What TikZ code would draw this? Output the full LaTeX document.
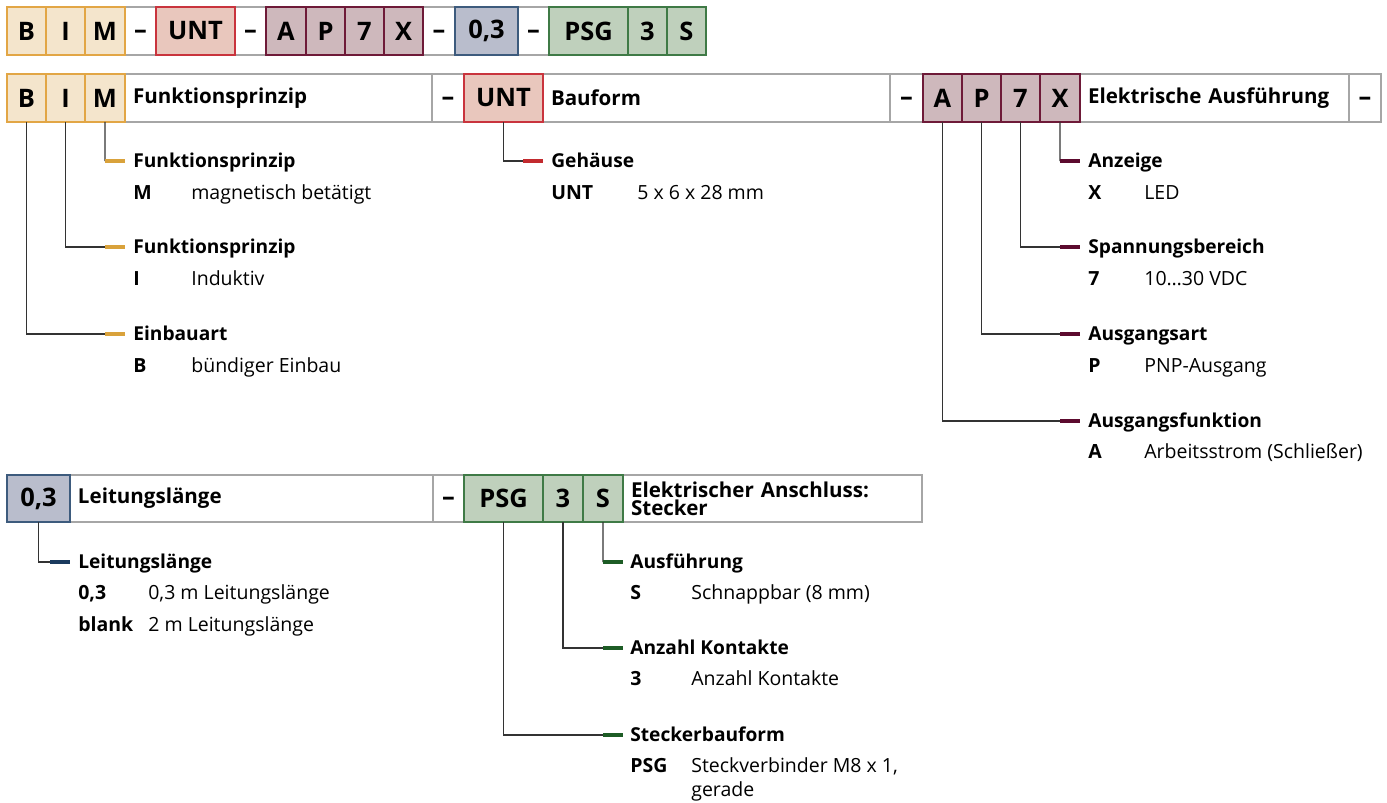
\documentclass[tikz,border=0pt]{standalone}
\usepackage{fontspec}
\setmainfont{Open Sans}
\usetikzlibrary{positioning}
\definecolor{bimfill}{HTML}{F4E5CC}
\definecolor{bimline}{HTML}{E2A645}
\definecolor{bimtick}{HTML}{D9A23B}
\definecolor{untfill}{HTML}{E9C7BD}
\definecolor{untline}{HTML}{C9343D}
\definecolor{unttick}{HTML}{C22A2E}
\definecolor{apxfill}{HTML}{CEB8BC}
\definecolor{apxline}{HTML}{6E1A38}
\definecolor{apxtick}{HTML}{5C0A2E}
\definecolor{lenfill}{HTML}{B9BDCC}
\definecolor{lenline}{HTML}{3D5B7D}
\definecolor{lentick}{HTML}{1A3A5E}
\definecolor{psgfill}{HTML}{BFD0BC}
\definecolor{psgline}{HTML}{3F7A46}
\definecolor{psgtick}{HTML}{1D5C25}
\definecolor{framegray}{HTML}{A6A6A6}
\newcommand{\cd}[2]{\makebox[#1][l]{\bfseries #2}}
\newcommand{\dsh}{\raisebox{-4pt}[0pt][0pt]{\textendash}}
\tikzset{
  cell/.style={draw, anchor=north west, inner sep=0pt, outer sep=0pt, line width=0.8pt,
    minimum height=0.96cm, font=\bfseries\fontsize{14.5}{16}\selectfont},
  gcell/.style={cell, draw=framegray, fill=white},
  titlecell/.style={gcell, align=left, inner xsep=0.16cm, font=\bfseries\fontsize{11.7}{10.2}\selectfont},
  bimc/.style={cell, draw=bimline, fill=bimfill},
  untc/.style={cell, draw=untline, fill=untfill},
  apxc/.style={cell, draw=apxline, fill=apxfill},
  lenc/.style={cell, draw=lenline, fill=lenfill},
  psgc/.style={cell, draw=psgline, fill=psgfill},
  conn/.style={draw=black!80, line width=0.65pt},
  tick/.style={line width=2.8pt},
  head/.style={anchor=base west, inner sep=0pt, font=\bfseries\fontsize{10.9}{12}\selectfont},
  desc/.style={anchor=base west, inner sep=0pt, align=left, font=\fontsize{11.1}{13.5}\selectfont}
}
\begin{document}
\begin{tikzpicture}[x=0.02cm,y=-0.02cm]
\useasboundingbox (0,0) rectangle (1387,802);
%TOP ROW
\node[gcell, minimum width=0.62cm] (tD1) at (125,7) {\dsh};
\node[gcell, minimum width=0.62cm] (tD2) at (235,7) {\dsh};
\node[gcell, minimum width=0.64cm] (tD3) at (423,7) {\dsh};
\node[gcell, minimum width=0.62cm] (tD4) at (518,7) {\dsh};
\node[bimc, minimum width=0.78cm] (tB) at (7,7) {B};
\node[bimc, minimum width=0.78cm] (tI) at (46,7) {I};
\node[bimc, minimum width=0.80cm] (tM) at (85,7) {M};
\node[untc, minimum width=1.58cm] (tU) at (156,7) {UNT};
\node[apxc, minimum width=0.80cm] (tA) at (266,7) {A};
\node[apxc, minimum width=0.78cm] (tP) at (306,7) {P};
\node[apxc, minimum width=0.78cm] (t7) at (345,7) {7};
\node[apxc, minimum width=0.78cm] (tX) at (384,7) {X};
\node[lenc, minimum width=1.26cm] (tL) at (455,7) {0,3};
\node[psgc, minimum width=1.58cm] (tPSG) at (549,7) {PSG};
\node[psgc, minimum width=0.78cm] (t3) at (628,7) {3};
\node[psgc, minimum width=0.78cm] (tS) at (667,7) {S};
%SECOND ROW
\node[titlecell, text width=5.82cm] (rF) at (125,74) {Funktionsprinzip};
\node[gcell, minimum width=0.64cm] (rD1) at (432,74) {\dsh};
\node[titlecell, text width=6.62cm] (rBa) at (543,74) {Bauform};
\node[gcell, minimum width=0.66cm] (rD2) at (890,74) {\dsh};
\node[titlecell, text width=5.06cm] (rE) at (1080,74) {Elektrische Ausführung};
\node[gcell, minimum width=0.64cm] (rD3) at (1349,74) {\dsh};
\node[bimc, minimum width=0.78cm] (rB) at (7,74) {B};
\node[bimc, minimum width=0.78cm] (rI) at (46,74) {I};
\node[bimc, minimum width=0.80cm] (rM) at (85,74) {M};
\node[untc, minimum width=1.58cm] (rU) at (464,74) {UNT};
\node[apxc, minimum width=0.78cm] (rA) at (923,74) {A};
\node[apxc, minimum width=0.78cm] (rP) at (962,74) {P};
\node[apxc, minimum width=0.78cm] (r7) at (1001,74) {7};
\node[apxc, minimum width=0.80cm] (rX) at (1040,74) {X};
%THIRD ROW
\node[titlecell, text width=6.94cm, minimum height=0.94cm] (sT) at (70,475) {Leitungslänge};
\node[gcell, minimum width=0.62cm, minimum height=0.94cm] (sD) at (433,475) {\dsh};
\node[titlecell, text width=5.66cm, minimum height=0.94cm] (sE) at (623,475) {Elektrischer Anschluss:\\Stecker};
\node[lenc, minimum width=1.26cm, minimum height=0.94cm] (sL) at (7,475) {0,3};
\node[psgc, minimum width=1.58cm, minimum height=0.94cm] (sPSG) at (464,475) {PSG};
\node[psgc, minimum width=0.80cm, minimum height=0.94cm] (s3) at (543,475) {3};
\node[psgc, minimum width=0.80cm, minimum height=0.94cm] (sS) at (583,475) {S};
%BIM ENTRIES
\node[head] (hM) at (133,167) {Funktionsprinzip};
\node[desc] (dM) at (133,199) {\cd{1.16cm}{M}magnetisch betätigt};
\node[head] (hI) at (133,253) {Funktionsprinzip};
\node[desc] (dI) at (133,285) {\cd{1.16cm}{I}Induktiv};
\node[head] (hB) at (133,340) {Einbauart};
\node[desc] (dB) at (133,372) {\cd{1.16cm}{B}bündiger Einbau};
%UNT ENTRY
\node[head] (hU) at (551,167) {Gehäuse};
\node[desc] (dU) at (551,199) {\cd{1.72cm}{UNT}5 x 6 x 28 mm};
%APX ENTRIES
\node[head] (hX) at (1088,167) {Anzeige};
\node[desc] (dX) at (1088,199) {\cd{1.12cm}{X}LED};
\node[head] (h7) at (1088,253) {Spannungsbereich};
\node[desc] (d7) at (1088,285) {\cd{1.12cm}{7}10…30 VDC};
\node[head] (hP) at (1088,340) {Ausgangsart};
\node[desc] (dP) at (1088,372) {\cd{1.12cm}{P}PNP-Ausgang};
\node[head] (hA) at (1088,427) {Ausgangsfunktion};
\node[desc] (dA) at (1088,458) {\cd{1.12cm}{A}Arbeitsstrom (Schließer)};
%LENGTH ENTRY
\node[head] (hL) at (78,568) {Leitungslänge};
\node[desc] (dL) at (78,599) {\cd{1.40cm}{0,3}0,3 m Leitungslänge};
\node[desc] (dL2) at (78,631) {\cd{1.40cm}{blank}2 m Leitungslänge};
%PSG ENTRIES
\node[head] (hS) at (630,568) {Ausführung};
\node[desc] (dS) at (630,599) {\cd{1.22cm}{S}Schnappbar (8 mm)};
\node[head] (h3) at (630,654) {Anzahl Kontakte};
\node[desc] (d3) at (630,685) {\cd{1.22cm}{3}Anzahl Kontakte};
\node[head] (hPSG) at (630,741) {Steckerbauform};
\node[desc] (dPSG) at (630,796) {\cd{1.22cm}{PSG}Steckverbinder M8 x 1,\\\hspace*{1.22cm}gerade};
%CONNECTORS
\coordinate (kM) at (105,161);
\coordinate (kI) at (105,247);
\coordinate (kB) at (105,334);
\coordinate (kU) at (523,161);
\coordinate (kX) at (1060,161);
\coordinate (k7) at (1060,247);
\coordinate (kP) at (1060,334);
\coordinate (kA) at (1060,421);
\coordinate (kL) at (50,562);
\coordinate (kS) at (603,562);
\coordinate (k3) at (603,648);
\coordinate (kPSG) at (603,735);
\draw[conn] (rM.south) -- (kM);
\draw[conn] (rI.south) |- (kI);
\draw[conn] (rB.south) |- (kB);
\draw[conn] (rU.south) |- (kU);
\draw[conn] (rX.south) -- (kX);
\draw[conn] (r7.south) |- (k7);
\draw[conn] (rP.south) |- (kP);
\draw[conn] (rA.south) |- (kA);
\draw[conn] (sL.south) |- (kL);
\draw[conn] (sS.south) -- (kS);
\draw[conn] (s3.south) |- (k3);
\draw[conn] (sPSG.south) |- (kPSG);
%TICKS
\draw[tick, bimtick] (kM) -- ++(20,0);
\draw[tick, bimtick] (kI) -- ++(20,0);
\draw[tick, bimtick] (kB) -- ++(20,0);
\draw[tick, unttick] (kU) -- ++(20,0);
\draw[tick, apxtick] (kX) -- ++(20,0);
\draw[tick, apxtick] (k7) -- ++(20,0);
\draw[tick, apxtick] (kP) -- ++(20,0);
\draw[tick, apxtick] (kA) -- ++(20,0);
\draw[tick, lentick] (kL) -- ++(20,0);
\draw[tick, psgtick] (kS) -- ++(20,0);
\draw[tick, psgtick] (k3) -- ++(20,0);
\draw[tick, psgtick] (kPSG) -- ++(20,0);
\end{tikzpicture}
\end{document}
